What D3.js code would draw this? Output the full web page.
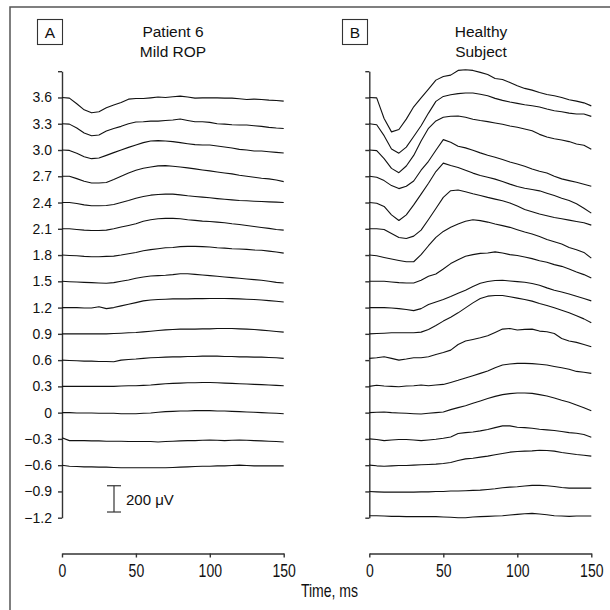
<!DOCTYPE html>
<html><head><meta charset="utf-8">
<script src="https://cdn.jsdelivr.net/npm/d3@7"></script>
<style>
html,body{margin:0;padding:0;background:#fff;}
svg{display:block;}
</style></head>
<body><svg id="chart" width="610" height="610"></svg>
<script>
// ---------- data ----------
const times = [0,5,10,15,20,25,30,35,40,45,50,55,60,65,70,75,80,85,90,95,100,105,110,115,120,125,130,135,140,145,150];

const patientOffsets = [3.6,3.3,3.0,2.7,2.4,2.1,1.8,1.5,1.2,0.9,0.6,0.3,0,-0.3,-0.6];
const healthyOffsets = [3.6,3.3,3.0,2.7,2.4,2.1,1.8,1.5,1.2,0.9,0.6,0.3,0,-0.3,-0.6,-0.9,-1.2];

// deviation from each trace's baseline, in microvolts
const patientUV = [
  [0,-5,-48,-94,-117,-109,-79,-58,-38,-13,-8,-8,-3,3,0,5,10,3,-5,-3,-3,-3,-5,-5,-10,-15,-13,-15,-20,-23,-28],
  [0,-3,-33,-71,-91,-86,-56,-36,-20,0,13,15,20,20,25,28,36,25,15,15,10,0,-3,-8,-10,-10,-15,-20,-28,-33,-36],
  [0,-3,-25,-51,-66,-61,-41,-20,0,20,38,56,69,71,69,64,56,48,41,38,38,30,23,15,5,0,-8,-8,-13,-18,-23],
  [0,0,-18,-38,-51,-51,-48,-25,0,25,46,61,71,79,81,76,71,64,56,48,41,33,25,18,8,0,-8,-15,-20,-28,-41],
  [0,0,-8,-18,-25,-25,-23,-15,0,15,33,46,56,61,64,64,58,51,46,41,36,30,25,20,15,13,10,8,5,3,0],
  [0,0,-5,-10,-13,-13,-10,0,13,25,38,58,69,76,79,79,76,69,64,58,56,51,46,38,33,25,18,10,3,-5,-10],
  [0,-3,-5,-10,-13,-13,-10,-8,0,10,20,33,41,48,56,58,64,66,66,64,61,56,53,48,46,43,38,36,30,23,15],
  [0,-3,-5,-8,-10,-13,-15,-10,0,10,23,33,41,43,46,51,58,58,53,48,43,38,33,28,23,18,13,8,0,-8,-13],
  [0,0,0,-3,-3,6,-8,0,13,25,38,51,58,61,64,66,66,66,68,68,69,69,69,68,66,64,61,58,53,48,43],
  [0,0,0,0,0,0,0,3,5,8,10,15,20,25,30,33,36,36,36,38,38,41,41,41,38,36,33,28,23,18,13],
  [0,-3,-5,-8,-8,-10,-10,-13,0,5,8,13,18,20,23,25,25,28,28,30,30,30,28,28,25,25,23,23,20,18,13],
  [0,0,0,0,0,0,0,0,3,5,5,8,10,15,20,23,25,28,28,30,30,28,25,23,20,18,15,13,10,8,5],
  [0,0,-3,-3,-3,-5,-5,-5,-8,-8,-8,-5,-3,3,8,10,13,13,15,15,15,13,13,10,8,5,3,0,-3,-5,-8],
  [8,-13,-13,-13,-15,-15,-18,-18,-18,-20,-20,-20,-20,-23,-20,-18,-15,-13,-13,-10,-8,-10,-13,-10,-8,-10,-13,-15,-18,-20,-23],
  [0,-8,-10,-13,-13,-15,-15,-18,-20,-20,-20,-20,-20,-20,-20,-18,-15,-13,-10,-8,-8,-5,-5,-3,0,-3,-5,-5,-5,-5,-5]
];

const healthyUV = [
  [0,-3,-160,-262,-244,-165,-71,-3,64,132,160,170,206,211,206,191,175,145,137,114,89,69,56,38,23,13,0,-18,-28,-41,-64],
  [0,-8,-91,-193,-224,-178,-97,-15,81,170,208,221,229,234,234,224,213,193,178,165,155,145,137,127,112,99,91,81,74,74,56],
  [0,-5,-66,-140,-173,-122,-41,69,165,221,249,257,259,249,234,224,216,206,196,183,173,160,147,119,99,86,76,64,46,36,5],
  [0,-8,-33,-71,-94,-76,-36,46,114,198,279,259,229,216,198,178,160,145,127,109,94,76,56,38,25,0,-20,-33,-46,-61,-76],
  [0,-5,-30,-94,-137,-94,-18,64,147,236,300,282,267,246,224,206,193,178,160,140,122,109,99,89,71,53,33,15,-10,-43,-81],
  [0,0,-5,-36,-66,-74,-56,-10,71,155,239,290,295,282,267,254,239,226,213,196,173,147,130,112,99,86,76,66,56,46,28],
  [0,-5,-18,-30,-41,-51,-51,3,71,135,180,211,236,257,269,262,251,236,224,211,193,175,160,142,119,102,84,58,41,20,-23],
  [0,0,0,-5,-10,-13,-13,8,38,56,94,135,165,191,203,213,216,224,216,203,196,185,173,157,145,127,114,94,71,51,25],
  [0,0,0,-3,-8,-15,-23,-8,23,43,61,84,109,132,160,185,198,206,208,203,198,193,183,170,150,132,119,104,86,69,51],
  [0,3,5,8,8,8,8,13,33,64,97,127,160,198,236,269,287,292,292,282,272,262,249,231,216,198,180,160,137,114,84],
  [13,18,25,13,0,8,18,18,25,43,58,76,119,145,157,170,185,211,236,241,229,234,236,221,216,203,165,145,135,119,102],
  [0,8,3,0,-3,3,5,10,5,10,15,30,46,64,81,99,117,142,163,170,175,175,173,168,163,152,142,130,114,107,99],
  [0,3,5,0,-3,-5,-8,-10,-5,0,5,23,38,53,71,89,107,124,137,145,150,150,147,137,127,112,94,79,58,38,15],
  [0,-5,-13,-8,-5,-5,-8,-13,-8,-3,5,15,41,48,53,61,71,86,99,99,89,86,81,74,69,64,56,48,43,33,13],
  [0,-5,-8,-5,-3,-3,0,3,5,8,13,20,36,48,53,61,69,79,89,99,104,107,109,114,112,107,97,89,81,76,69],
  [0,-3,-5,-5,-5,-5,-5,-3,-3,0,0,3,3,5,8,10,15,20,28,33,36,41,46,46,43,38,30,25,25,25,25],
  [15,15,13,10,10,8,8,8,8,8,5,3,0,0,5,8,10,13,15,20,25,30,33,28,23,15,13,10,13,13,13]
];

const yTickValues = [3.9,3.6,3.3,3.0,2.7,2.4,2.1,1.8,1.5,1.2,0.9,0.6,0.3,0,-0.3,-0.6,-0.9,-1.2];
const yTickLabels = ["","3.6","3.3","3.0","2.7","2.4","2.1","1.8","1.5","1.2","0.9","0.6","0.3","0","\u22120.3","\u22120.6","\u22120.9","\u22121.2"];
const xTickValues = [0,50,100,150];
const xTickLabels = ["0","50","100","150"];

const panelTitles = [["Patient 6","Mild ROP"],["Healthy","Subject"]];
const panelLetters = ["A","B"];
const scaleBarUV = 200;
const scaleBarLabel = "200 \u03bcV";
const xAxisTitle = "Time, ms";

// ---------- layout ----------
const UV_PER_UNIT = 200/0.3;
const svg = d3.select("#chart");
const regular = "'Liberation Sans', Arial, Helvetica, sans-serif";
const NARROW = 0.78;
const ink = "#111";

svg.append("rect").attr("width",610).attr("height",610).attr("fill","#fff");
svg.append("path").attr("d","M10,612V7H612").attr("fill","none").attr("stroke","#555").attr("stroke-width",1.5);

const y = d3.scaleLinear().domain([-1.2,3.9]).range([517.7,71.2]);
const panels = [
  {x: d3.scaleLinear().domain([0,150]).range([62,283.7]), offsets: patientOffsets, data: patientUV, labels:true, titleX:173, boxX:37},
  {x: d3.scaleLinear().domain([0,150]).range([369.3,591.3]), offsets: healthyOffsets, data: healthyUV, labels:false, titleX:481, boxX:342}
];

const xAxisY = 553.5;

panels.forEach((p,pi)=>{
  const g = svg.append("g");
  // y axis
  const ya = d3.axisLeft(y).tickValues(yTickValues).tickSize(4).tickSizeOuter(0).tickPadding(6)
    .tickFormat((d,i)=> p.labels ? yTickLabels[i] : "");
  const yg = g.append("g").attr("transform",`translate(${p.x(0)},0)`).call(ya);
  yg.selectAll("path,line").attr("stroke","#333").attr("stroke-width",1.4);
  yg.selectAll("text").attr("fill",ink).style("font-family",regular).style("font-size","14px");

  // x axis
  const xa = d3.axisBottom(p.x).tickValues(xTickValues).tickSize(4).tickSizeOuter(0)
    .tickFormat((d,i)=>xTickLabels[i]);
  const xg = g.append("g").attr("transform",`translate(0,${xAxisY})`).call(xa);
  xg.selectAll("path,line").attr("stroke","#333").attr("stroke-width",1.4);
  xg.selectAll("text").attr("y",null).attr("dy",null).attr("fill",ink)
    .attr("transform",`translate(0,23) scale(${NARROW},1)`)
    .style("font-family",regular).style("font-size","18px");

  // traces
  const line = d3.line().x((d,i)=>p.x(times[i])).y(d=>d);
  p.data.forEach((vals,k)=>{
    const pts = vals.map(v=> y(p.offsets[k] + v/UV_PER_UNIT));
    g.append("path").attr("d",line(pts)).attr("fill","none")
      .attr("stroke","#111").attr("stroke-width",1.1).attr("stroke-linejoin","round");
  });

  // titles
  g.append("text").attr("x",p.titleX).attr("y",37.3).attr("text-anchor","middle")
    .style("font-family",regular).style("font-size","15.5px").attr("fill",ink).text(panelTitles[pi][0]);
  g.append("text").attr("x",p.titleX).attr("y",57.3).attr("text-anchor","middle")
    .style("font-family",regular).style("font-size","15.5px").attr("fill",ink).text(panelTitles[pi][1]);

  // letter box
  g.append("rect").attr("x",p.boxX+0.5).attr("y",19.5).attr("width",25).attr("height",25)
    .attr("fill","none").attr("stroke","#333").attr("stroke-width",1.1);
  g.append("text").attr("x",p.boxX+13).attr("y",38).attr("text-anchor","middle")
    .style("font-family",regular).style("font-size","15.5px").attr("fill",ink).text(panelLetters[pi]);
});

// scale bar
const sbBase = -1.135;
const sbTop = sbBase + scaleBarUV/UV_PER_UNIT;
const sbX = 114;
const sb = svg.append("g").attr("stroke","#333").attr("stroke-width",1.2);
sb.append("line").attr("x1",sbX).attr("x2",sbX).attr("y1",y(sbBase)).attr("y2",y(sbTop));
sb.append("line").attr("x1",sbX-7).attr("x2",sbX+7).attr("y1",y(sbBase)).attr("y2",y(sbBase));
sb.append("line").attr("x1",sbX-7).attr("x2",sbX+7).attr("y1",y(sbTop)).attr("y2",y(sbTop));
svg.append("text").attr("x",126).attr("y",505).style("font-family",regular).style("font-size","15px")
  .attr("fill",ink).text(scaleBarLabel);

// x title
svg.append("text").attr("text-anchor","middle")
  .attr("transform",`translate(329.5,596.5) scale(${NARROW},1)`)
  .style("font-family",regular).style("font-size","18px").attr("fill",ink).text(xAxisTitle);
</script>
</body></html>
